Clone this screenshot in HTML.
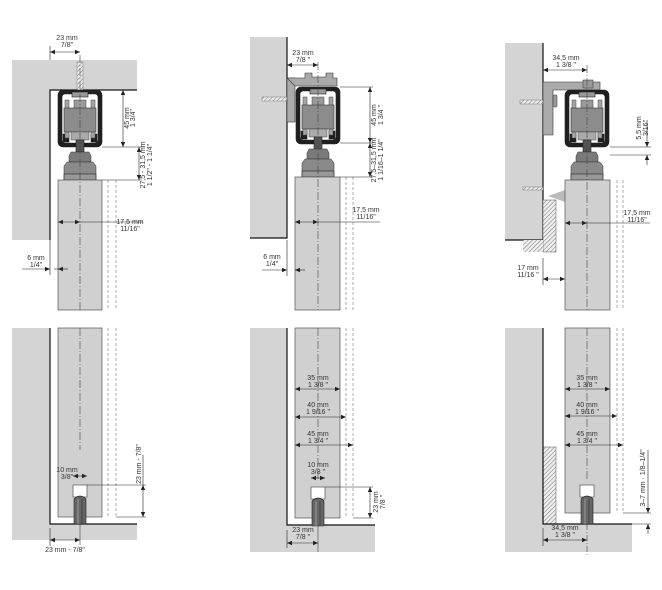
<!DOCTYPE html>
<html><head><meta charset="utf-8"><style>
html,body{margin:0;padding:0;background:#fff}
svg{display:block}
text{font-family:"Liberation Sans",sans-serif;font-size:7px;fill:#333}
</style></head><body>
<svg width="662" height="590" viewBox="0 0 662 590" xmlns="http://www.w3.org/2000/svg">
<defs>
<marker id="a" markerWidth="6" markerHeight="6" refX="5" refY="3" orient="auto-start-reverse" markerUnits="userSpaceOnUse"><path d="M0,0.8 L5,3 L0,5.2 z" fill="#222"/></marker>
<pattern id="h" width="3" height="3" patternUnits="userSpaceOnUse" patternTransform="rotate(45)"><rect width="3" height="3" fill="#eee"/><line x1="0" y1="0" x2="0" y2="3" stroke="#777" stroke-width="1"/></pattern>
<g id="roller">
<rect x="-22" y="0" width="44" height="57" rx="5" fill="#1f1f1f"/>
<rect x="-18" y="4" width="36" height="49" rx="3" fill="#fff"/>
<rect x="-8" y="2" width="16" height="5" fill="#999"/>
<rect x="-17" y="44" width="6" height="8" fill="#1f1f1f"/>
<rect x="11" y="44" width="6" height="8" fill="#1f1f1f"/>
<rect x="-15" y="10" width="4" height="38" fill="#a5a5a5" stroke="#444" stroke-width="0.5"/>
<rect x="11" y="10" width="4" height="38" fill="#a5a5a5" stroke="#444" stroke-width="0.5"/>
<rect x="-6" y="10" width="12" height="10" fill="#999" stroke="#444" stroke-width="0.5"/>
<rect x="-16" y="18" width="32" height="24" fill="#8c8c8c" stroke="#333" stroke-width="0.6"/>
<rect x="-9" y="42" width="18" height="8" fill="#aaa" stroke="#444" stroke-width="0.5"/>
<rect x="-4" y="50" width="8" height="12" fill="#555"/>
<path d="M-11,66 L-9,62 L9,62 L11,66 L11,72 L-11,72 z" fill="#7a7a7a" stroke="#333" stroke-width="0.5"/>
<path d="M-13,72 L13,72 L16,76 L16,90 L-16,90 L-16,76 z" fill="#8a8a8a" stroke="#333" stroke-width="0.5"/>
<rect x="-16" y="84" width="32" height="6" fill="#999"/>
</g>
<g id="guide">
<rect x="-7" y="0" width="14" height="12" fill="#fff" stroke="#555" stroke-width="0.7"/>
<path d="M-6,14 Q0,8 6,14 L6,39 L-6,39 z" fill="#666" stroke="#222" stroke-width="0.6"/>
<line x1="-2" y1="14" x2="-2" y2="39" stroke="#999" stroke-width="1"/>
<line x1="2" y1="14" x2="2" y2="39" stroke="#444" stroke-width="1"/>
</g>
</defs>
<g stroke="#222" stroke-width="0.6" fill="none">

<!-- ===== PANEL 1 TOP ===== -->
<path d="M12,60 H137 V90 H50 V240 H12 z" fill="#d4d4d4" stroke="none"/>
<path d="M137,90 H50 V240" stroke="#111" stroke-width="1.2"/>
<rect x="77" y="62" width="6" height="28" fill="url(#h)" stroke="#666" stroke-width="0.4"/>
<use href="#roller" x="80" y="90"/>
<rect x="58" y="180" width="44" height="130" fill="#d0d0d0" stroke="#555" stroke-width="0.7"/>
<line x1="80" y1="55" x2="80" y2="310" stroke-dasharray="8,2,1,2" stroke="#444"/>
<line x1="108" y1="180" x2="108" y2="310" stroke-dasharray="3,2" stroke="#777"/>
<line x1="116" y1="180" x2="116" y2="310" stroke-dasharray="3,2" stroke="#777"/>
<line x1="50" y1="46" x2="50" y2="60"/>
<line x1="50" y1="52" x2="80" y2="52" marker-start="url(#a)" marker-end="url(#a)"/>
<line x1="102" y1="90" x2="126" y2="90"/><line x1="102" y1="147" x2="142" y2="147"/><line x1="102" y1="180" x2="142" y2="180"/>
<line x1="123" y1="90" x2="123" y2="147" marker-start="url(#a)" marker-end="url(#a)"/>
<line x1="139" y1="147" x2="139" y2="180" marker-start="url(#a)" marker-end="url(#a)"/>
<line x1="58" y1="222" x2="80" y2="222" marker-start="url(#a)" marker-end="url(#a)"/>
<line x1="80" y1="222" x2="143" y2="222"/>
<line x1="50" y1="240" x2="50" y2="275"/>
<line x1="22" y1="269" x2="50" y2="269" marker-end="url(#a)"/>
<line x1="62" y1="269" x2="54" y2="269"/>
<line x1="68" y1="269" x2="58" y2="269" marker-end="url(#a)"/>

<!-- ===== PANEL 1 BOTTOM ===== -->
<path d="M12,328 H50 V524 H137 V540 H12 z" fill="#d4d4d4" stroke="none"/>
<path d="M50,328 V524 H137" stroke="#111" stroke-width="1.2"/>
<rect x="58" y="328" width="44" height="189" fill="#d0d0d0" stroke="#555" stroke-width="0.7"/>
<line x1="80" y1="328" x2="80" y2="450" stroke-dasharray="8,2,1,2" stroke="#444"/>
<line x1="80" y1="524" x2="80" y2="545" stroke="#444"/>
<line x1="108" y1="328" x2="108" y2="517" stroke-dasharray="3,2" stroke="#777"/>
<line x1="116" y1="328" x2="116" y2="517" stroke-dasharray="3,2" stroke="#777"/>
<use href="#guide" x="80" y="485"/>
<line x1="73" y1="476" x2="87" y2="476" marker-start="url(#a)" marker-end="url(#a)"/>
<line x1="87" y1="485" x2="146" y2="485"/><line x1="116" y1="517" x2="146" y2="517"/>
<line x1="143" y1="485" x2="143" y2="517" marker-start="url(#a)" marker-end="url(#a)"/>
<line x1="143" y1="455" x2="143" y2="485"/>
<line x1="50" y1="528" x2="50" y2="546"/>
<line x1="50" y1="540" x2="80" y2="540" marker-start="url(#a)" marker-end="url(#a)"/>

<!-- ===== PANEL 2 TOP ===== -->
<rect x="250" y="37" width="37" height="201" fill="#d4d4d4" stroke="none"/>
<path d="M287,37 V238 H250" stroke="#111" stroke-width="1.2"/>
<rect x="262" y="97" width="25" height="4" fill="url(#h)" stroke="#666" stroke-width="0.4"/>
<rect x="287" y="78" width="8" height="44" fill="#aaa" stroke="#333" stroke-width="0.6"/>
<path d="M287,78 H305 V73 H312 V77 H326 V73 H333 V78 H337 V86 H295 z" fill="#aaa" stroke="#333" stroke-width="0.6"/>
<use href="#roller" x="318" y="87"/>
<rect x="295" y="177" width="45" height="133" fill="#d0d0d0" stroke="#555" stroke-width="0.7"/>
<line x1="318" y1="62" x2="318" y2="310" stroke-dasharray="8,2,1,2" stroke="#444"/>
<line x1="346" y1="177" x2="346" y2="310" stroke-dasharray="3,2" stroke="#777"/>
<line x1="353" y1="177" x2="353" y2="310" stroke-dasharray="3,2" stroke="#777"/>
<line x1="287" y1="65" x2="318" y2="65" marker-start="url(#a)" marker-end="url(#a)"/>
<line x1="340" y1="87" x2="373" y2="87"/><line x1="340" y1="143" x2="373" y2="143"/><line x1="340" y1="177" x2="373" y2="177"/>
<line x1="370" y1="87" x2="370" y2="143" marker-start="url(#a)" marker-end="url(#a)"/>
<line x1="370" y1="143" x2="370" y2="177" marker-start="url(#a)" marker-end="url(#a)"/>
<line x1="295" y1="222" x2="318" y2="222" marker-start="url(#a)" marker-end="url(#a)"/>
<line x1="318" y1="222" x2="380" y2="222"/>
<line x1="287" y1="240" x2="287" y2="276"/>
<line x1="262" y1="270" x2="287" y2="270" marker-end="url(#a)"/>
<line x1="305" y1="270" x2="295" y2="270" marker-end="url(#a)"/>

<!-- ===== PANEL 2 BOTTOM ===== -->
<path d="M250,328 H287 V525 H375 V552 H250 z" fill="#d4d4d4" stroke="none"/>
<path d="M287,328 V525 H375" stroke="#111" stroke-width="1.2"/>
<rect x="295" y="328" width="45" height="190" fill="#d0d0d0" stroke="#555" stroke-width="0.7"/>
<line x1="318" y1="328" x2="318" y2="480" stroke-dasharray="8,2,1,2" stroke="#444"/>
<line x1="318" y1="525" x2="318" y2="552" stroke="#444"/>
<line x1="346" y1="328" x2="346" y2="518" stroke-dasharray="3,2" stroke="#777"/>
<line x1="353" y1="328" x2="353" y2="518" stroke-dasharray="3,2" stroke="#777"/>
<line x1="295" y1="389" x2="340" y2="389" marker-start="url(#a)" marker-end="url(#a)"/>
<line x1="295" y1="417" x2="346" y2="417" marker-start="url(#a)" marker-end="url(#a)"/>
<line x1="295" y1="445" x2="353" y2="445" marker-start="url(#a)" marker-end="url(#a)"/>
<use href="#guide" x="318" y="487"/>
<line x1="311" y1="478" x2="325" y2="478" marker-start="url(#a)" marker-end="url(#a)"/>
<line x1="325" y1="487" x2="373" y2="487"/><line x1="353" y1="518" x2="373" y2="518"/>
<line x1="370" y1="487" x2="370" y2="518" marker-start="url(#a)" marker-end="url(#a)"/>
<line x1="287" y1="530" x2="287" y2="548"/>
<line x1="287" y1="543" x2="318" y2="543" marker-start="url(#a)" marker-end="url(#a)"/>

<!-- ===== PANEL 3 TOP ===== -->
<rect x="505" y="43" width="38" height="197" fill="#d4d4d4" stroke="none"/>
<path d="M543,43 V240 H505" stroke="#111" stroke-width="1.2"/>
<rect x="520" y="100" width="23" height="4" fill="url(#h)" stroke="#666" stroke-width="0.4"/>
<path d="M543,82 H600 V90 H553 V135 H543 z" fill="#aaa" stroke="#333" stroke-width="0.6"/>
<rect x="553" y="95" width="4" height="12" rx="1" fill="#999" stroke="#333" stroke-width="0.5"/>
<rect x="583" y="80" width="10" height="8" fill="#999" stroke="#333" stroke-width="0.5"/>
<use href="#roller" x="587" y="90"/>
<rect x="523" y="187" width="20" height="3" fill="url(#h)" stroke="#666" stroke-width="0.4"/>
<path d="M548,196 L565,190 L565,202 z" fill="#bbb" stroke="none"/>
<rect x="543" y="200" width="13" height="52" fill="url(#h)" stroke="#555" stroke-width="0.5"/>
<rect x="523" y="240" width="20" height="12" fill="url(#h)" stroke="none"/>
<rect x="565" y="180" width="45" height="130" fill="#d0d0d0" stroke="#555" stroke-width="0.7"/>
<line x1="587" y1="65" x2="587" y2="310" stroke-dasharray="8,2,1,2" stroke="#444"/>
<line x1="617" y1="180" x2="617" y2="310" stroke-dasharray="3,2" stroke="#777"/>
<line x1="623" y1="180" x2="623" y2="310" stroke-dasharray="3,2" stroke="#777"/>
<line x1="543" y1="70" x2="587" y2="70" marker-start="url(#a)" marker-end="url(#a)"/>
<line x1="610" y1="147" x2="651" y2="147"/><line x1="610" y1="155" x2="651" y2="155"/>
<line x1="647" y1="120" x2="647" y2="147" marker-end="url(#a)"/>
<line x1="647" y1="165" x2="647" y2="155" marker-end="url(#a)"/>
<line x1="565" y1="223" x2="587" y2="223" marker-start="url(#a)" marker-end="url(#a)"/>
<line x1="587" y1="223" x2="650" y2="223"/>
<line x1="543" y1="258" x2="543" y2="285"/>
<line x1="543" y1="279" x2="565" y2="279" marker-start="url(#a)" marker-end="url(#a)"/>

<!-- ===== PANEL 3 BOTTOM ===== -->
<path d="M505,328 H543 V524 H632 V552 H505 z" fill="#d4d4d4" stroke="none"/>
<rect x="543" y="447" width="13" height="77" fill="url(#h)" stroke="#555" stroke-width="0.5"/>
<path d="M543,328 V524 H632" stroke="#111" stroke-width="1.2"/>
<rect x="565" y="328" width="45" height="185" fill="#d0d0d0" stroke="#555" stroke-width="0.7"/>
<line x1="587" y1="328" x2="587" y2="480" stroke-dasharray="8,2,1,2" stroke="#444"/>
<line x1="587" y1="524" x2="587" y2="557" stroke-dasharray="6,2,1,2" stroke="#444"/>
<line x1="617" y1="328" x2="617" y2="513" stroke-dasharray="3,2" stroke="#777"/>
<line x1="623" y1="328" x2="623" y2="513" stroke-dasharray="3,2" stroke="#777"/>
<line x1="565" y1="389" x2="610" y2="389" marker-start="url(#a)" marker-end="url(#a)"/>
<line x1="565" y1="416" x2="617" y2="416" marker-start="url(#a)" marker-end="url(#a)"/>
<line x1="565" y1="445" x2="623" y2="445" marker-start="url(#a)" marker-end="url(#a)"/>
<use href="#guide" x="587" y="485"/>
<line x1="623" y1="513" x2="651" y2="513"/><line x1="632" y1="524" x2="651" y2="524"/>
<line x1="648" y1="450" x2="648" y2="513" marker-end="url(#a)"/>
<line x1="648" y1="534" x2="648" y2="524" marker-end="url(#a)"/>
<line x1="543" y1="528" x2="543" y2="546"/>
<line x1="543" y1="540" x2="587" y2="540" marker-start="url(#a)" marker-end="url(#a)"/>
</g>

<!-- ===== TEXT ===== -->
<g text-anchor="middle">
<text x="67" y="40">23 mm</text><text x="67" y="47">7/8"</text>
<text x="130" y="224">17,5 mm</text><text x="130" y="231">11/16"</text>
<text x="36" y="260">6 mm</text><text x="36" y="267">1/4"</text>
<text x="67" y="472">10 mm</text><text x="67" y="479">3/8"</text>
<text x="65" y="552">23 mm - 7/8"</text>

<text x="303" y="55">23 mm</text><text x="303" y="62">7/8 "</text>
<text x="366" y="212">17,5 mm</text><text x="366" y="219">11/16"</text>
<text x="272" y="259">6 mm</text><text x="272" y="266">1/4"</text>
<text x="318" y="380">35 mm</text><text x="318" y="387">1 3/8 "</text>
<text x="318" y="407">40 mm</text><text x="318" y="414">1 9/16 "</text>
<text x="318" y="436">45 mm</text><text x="318" y="443">1 3/4 "</text>
<text x="318" y="467">10 mm</text><text x="318" y="474">3/8 "</text>
<text x="303" y="532">23 mm</text><text x="303" y="539">7/8 "</text>

<text x="566" y="60">34,5 mm</text><text x="566" y="67">1 3/8 "</text>
<text x="637" y="215">17,5 mm</text><text x="637" y="222">11/16"</text>
<text x="528" y="270">17 mm</text><text x="528" y="277">11/16 "</text>
<text x="587" y="380">35 mm</text><text x="587" y="387">1 3/8 "</text>
<text x="587" y="407">40 mm</text><text x="587" y="414">1 9/16 "</text>
<text x="587" y="436">45 mm</text><text x="587" y="443">1 3/4 "</text>
<text x="565" y="530">34,5 mm</text><text x="565" y="537">1 3/8 "</text>
</g>
<g text-anchor="middle">
<text transform="translate(129,118) rotate(-90)">45 mm</text>
<text transform="translate(135,118) rotate(-90)">1 3/4"</text>
<text transform="translate(145,165) rotate(-90)">27,5 - 31,5 mm</text>
<text transform="translate(152,165) rotate(-90)">1 1/2" - 1 1/4"</text>
<text transform="translate(141,464) rotate(-90)">23 mm - 7/8"</text>

<text transform="translate(376,115) rotate(-90)">45 mm</text>
<text transform="translate(383,115) rotate(-90)">1 3/4 "</text>
<text transform="translate(376,160) rotate(-90)">27,5–31,5 mm</text>
<text transform="translate(383,160) rotate(-90)">1 1/16–1 1/4"</text>
<text transform="translate(378,502) rotate(-90)">23 mm</text>
<text transform="translate(385,502) rotate(-90)">7/8 "</text>

<text transform="translate(641,128) rotate(-90)">5,5 mm</text>
<text transform="translate(648,128) rotate(-90)">3/16"</text>
<text transform="translate(645,478) rotate(-90)">3–7 mm · 1/8–1/4"</text>
</g>
</svg>
</body></html>
